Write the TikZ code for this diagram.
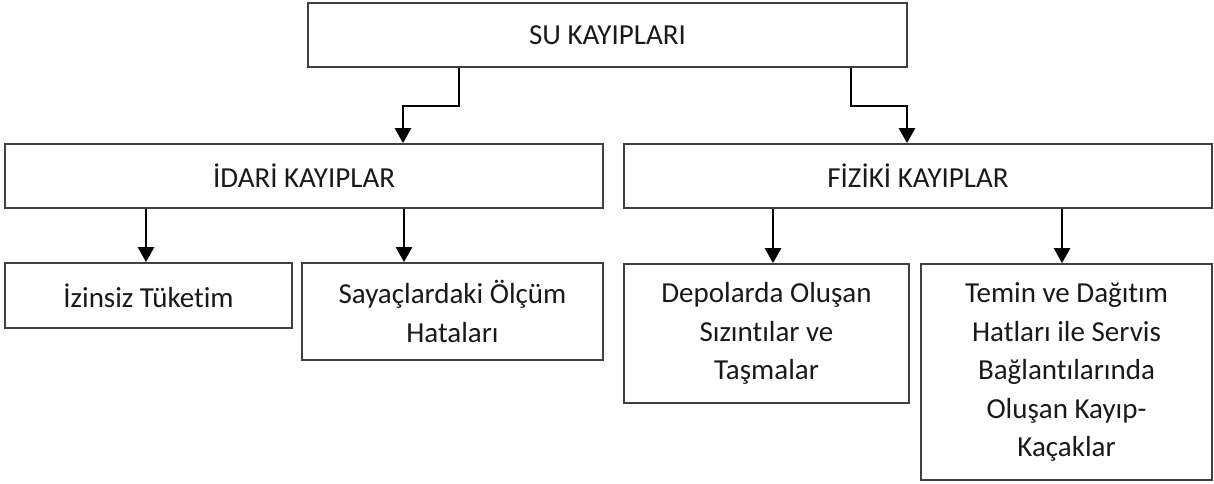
\documentclass[tikz,border=0pt]{standalone}
\usepackage{fontspec}
\setmainfont{Carlito}[Ligatures = NoCommon]
\usetikzlibrary{arrows.meta}
\tikzset{
  kutu/.style = {draw = black!75, line width = 1.8pt, rectangle, inner sep = 0pt,
                 align = center, text = black!90, font = \fontsize{29}{38.5}\selectfont},
  ok/.style = {draw, line width = 2.7pt, -{Triangle[width = 16pt, length = 15pt]}}
}
\begin{document}
\begin{tikzpicture}[x = 1pt, y = -1pt]
      \useasboundingbox (0, 0) rectangle (1214, 483);
      \node [kutu, minimum width = 599, minimum height = 64] (su) at (607.5, 35) {SU KAYIPLARI};
      \node [kutu, minimum width = 598, minimum height = 64] (idari) at (304, 176) {İDARİ KAYIPLAR};
      \node [kutu, minimum width = 588, minimum height = 64] (fiziki) at (918, 176) {FİZİKİ KAYIPLAR};
      \node [kutu, minimum width = 287, minimum height = 65] (izinsiz) at (148.5, 295.5) {İzinsiz Tüketim};
      \node [kutu, minimum width = 301, minimum height = 97] (sayac) at (452.5, 311.5) {Sayaçlardaki Ölçüm\\Hataları};
      \node [kutu, minimum width = 285, minimum height = 139] (depo) at (766.5, 333.5) {Depolarda Oluşan\\Sızıntılar ve\\Taşmalar};
      \node [kutu, minimum width = 291, minimum height = 216] (temin) at (1066.5, 372) {Temin ve Dağıtım\\Hatları ile Servis\\Bağlantılarında\\Oluşan Kayıp-\\Kaçaklar};
      % dallanma noktalari
      \coordinate (s1) at ([xshift = -2.5pt] izinsiz.north);
      \coordinate (s2) at ([xshift = -48.5pt] sayac.north);
      \coordinate (s3) at ([xshift = 6.5pt] depo.north);
      \coordinate (s4) at ([xshift = -4.5pt] temin.north);
      \draw [ok] ([xshift = -148.5pt] su.south) -- ++(0, 38) -| ([xshift = 99pt] idari.north);
      \draw [ok] ([xshift = 243.5pt] su.south) -- ++(0, 38) -| ([xshift = -11pt] fiziki.north);
      \draw [ok] (idari.south -| s1) -- (s1);
      \draw [ok] (idari.south -| s2) -- (s2);
      \draw [ok] (fiziki.south -| s3) -- (s3);
      \draw [ok] (fiziki.south -| s4) -- (s4);
\end{tikzpicture}
\end{document}
